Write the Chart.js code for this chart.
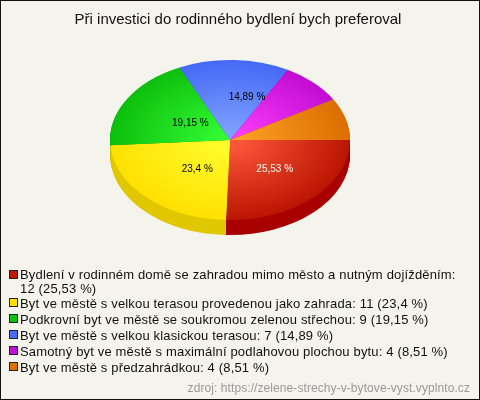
<!DOCTYPE html>
<html><head><meta charset="utf-8">
<script src="https://cdn.jsdelivr.net/npm/chart.js@4"></script>
<style>
html,body{margin:0;padding:0;background:#f4f4ec}
#wrap{position:relative;width:480px;height:400px;overflow:hidden;font-family:"Liberation Sans",Arial,sans-serif}
canvas{position:absolute;left:0;top:0}
#frame{position:absolute;left:0;top:0;width:478px;height:398px;border:1px solid #111}
.row{position:absolute;left:20px;font-size:13px;line-height:14px;white-space:nowrap;color:#111;letter-spacing:.16px}
.sw{position:absolute;left:9px;width:7px;height:7px;border:1px solid #222}
#src{position:absolute;right:10px;top:381px;font-size:12px;line-height:14px;color:#999;letter-spacing:.08px}
</style></head><body>
<div id="wrap"><canvas id="c" width="480" height="400"></canvas><div id="frame"></div></div>
<script>
const chartTitle = 'Při investici do rodinného bydlení bych preferoval';
const categories = [
  'Bydlení v rodinném domě se zahradou mimo město a nutným dojížděním:',
  'Byt ve městě s velkou terasou provedenou jako zahrada:',
  'Podkrovní byt ve městě se soukromou zelenou střechou:',
  'Byt ve městě s velkou klasickou terasou:',
  'Samotný byt ve městě s maximální podlahovou plochou bytu:',
  'Byt ve městě s předzahrádkou:'
];
const counts = [12, 11, 9, 7, 4, 4];
const percentLabels = ['25,53 %', '23,4 %', '19,15 %', '14,89 %', '8,51 %', '8,51 %'];
const sourceText = 'zdroj: https://zelene-strechy-v-bytove-vyst.vyplnto.cz';

const innerColors = ['#ff5c3e', '#ffff30', '#36ff36', '#84a6ff', '#ff40ff', '#ffa428'];
const outerColors = ['#b81400', '#ffe000', '#0cbe0c', '#4468f6', '#c00cd0', '#dc6c00'];
const sideColors  = ['#a80000', '#e0c800', '#089008', '#3050c0', '#900aa0', '#b05000'];
const swatchColors = ['#c01800', '#ffe000', '#0cc00c', '#4a6cf8', '#c010d0', '#e07000'];
const labelColors = ['#fff', '#000', '#000', '#000', null, null];

const SQUASH = 2 / 3, CENTER_Y = 140, DEPTH = 15, SHIFT_X = -8;
const labelNudge = [[3, 0], [9, 0], [12, 4], [15, -3]];

function toTop(ctx, chart, dy) {
  const cy = (chart.chartArea.top + chart.chartArea.bottom) / 2;
  ctx.translate(SHIFT_X, CENTER_Y + dy);
  ctx.scale(1, SQUASH);
  ctx.translate(0, -cy);
}
const pie3d = {
  id: 'pie3d',
  beforeDatasetsDraw(chart) {
    const ctx = chart.ctx, arcs = chart.getDatasetMeta(0).data;
    for (let d = DEPTH; d >= 1; d--) {
      ctx.save();
      toTop(ctx, chart, d);
      arcs.forEach((arc, i) => {
        const o = arc.options;
        arc.options = Object.assign({}, o, {backgroundColor: sideColors[i]});
        arc.draw(ctx);
        arc.options = o;
      });
      ctx.restore();
    }
    ctx.save();
    toTop(ctx, chart, 0);
  },
  afterDatasetsDraw(chart) {
    const ctx = chart.ctx;
    ctx.restore();
    const cy = (chart.chartArea.top + chart.chartArea.bottom) / 2;
    ctx.save();
    ctx.font = '10px "Liberation Sans", Arial, sans-serif';
    ctx.textAlign = 'center';
    ctx.textBaseline = 'middle';
    chart.getDatasetMeta(0).data.forEach((arc, i) => {
      if (!labelColors[i]) return;
      const p = arc.getCenterPoint();
      ctx.fillStyle = labelColors[i];
      ctx.fillText(percentLabels[i], p.x + SHIFT_X + labelNudge[i][0], CENTER_Y + (p.y - cy) * SQUASH + labelNudge[i][1]);
    });
    ctx.restore();
  }
};

new Chart(document.getElementById('c'), {
  type: 'pie',
  data: {
    labels: categories,
    datasets: [{
      data: counts,
      borderWidth: 0,
      backgroundColor(c) {
        const a = c.chart.chartArea;
        if (!a) return swatchColors[c.dataIndex];
        const x = (a.left + a.right) / 2, y = (a.top + a.bottom) / 2;
        const g = c.chart.ctx.createRadialGradient(x, y, 0, x, y, 122);
        g.addColorStop(0, innerColors[c.dataIndex]);
        g.addColorStop(1, outerColors[c.dataIndex]);
        return g;
      }
    }]
  },
  options: {
    responsive: false,
    animation: false,
    rotation: 90,
    layout: {padding: {left: 0, right: 4, top: 0, bottom: 131}},
    plugins: {
      legend: {display: false},
      tooltip: {enabled: false},
      title: {display: true, text: chartTitle, color: '#111', padding: {top: 11, bottom: 0},
        font: {family: '"Liberation Sans", Arial, sans-serif', size: 15, weight: 'normal'}}
    }
  },
  plugins: [pie3d]
});

const wrap = document.getElementById('wrap');
const rowTops = [268, 297, 313, 329, 345, 361];
const swatchTops = [270, 298, 314, 330, 346, 362];
categories.forEach((name, i) => {
  const s = document.createElement('div');
  s.className = 'sw'; s.style.top = swatchTops[i] + 'px'; s.style.background = swatchColors[i];
  wrap.appendChild(s);
  const r = document.createElement('div');
  r.className = 'row'; r.style.top = rowTops[i] + 'px';
  const tail = counts[i] + ' (' + percentLabels[i] + ')';
  if (i === 0) {
    r.innerHTML = name + '<br>' + tail;
  } else r.textContent = name + ' ' + tail;
  wrap.appendChild(r);
});
const src = document.createElement('div');
src.id = 'src'; src.textContent = sourceText;
wrap.appendChild(src);
</script>
</body></html>
